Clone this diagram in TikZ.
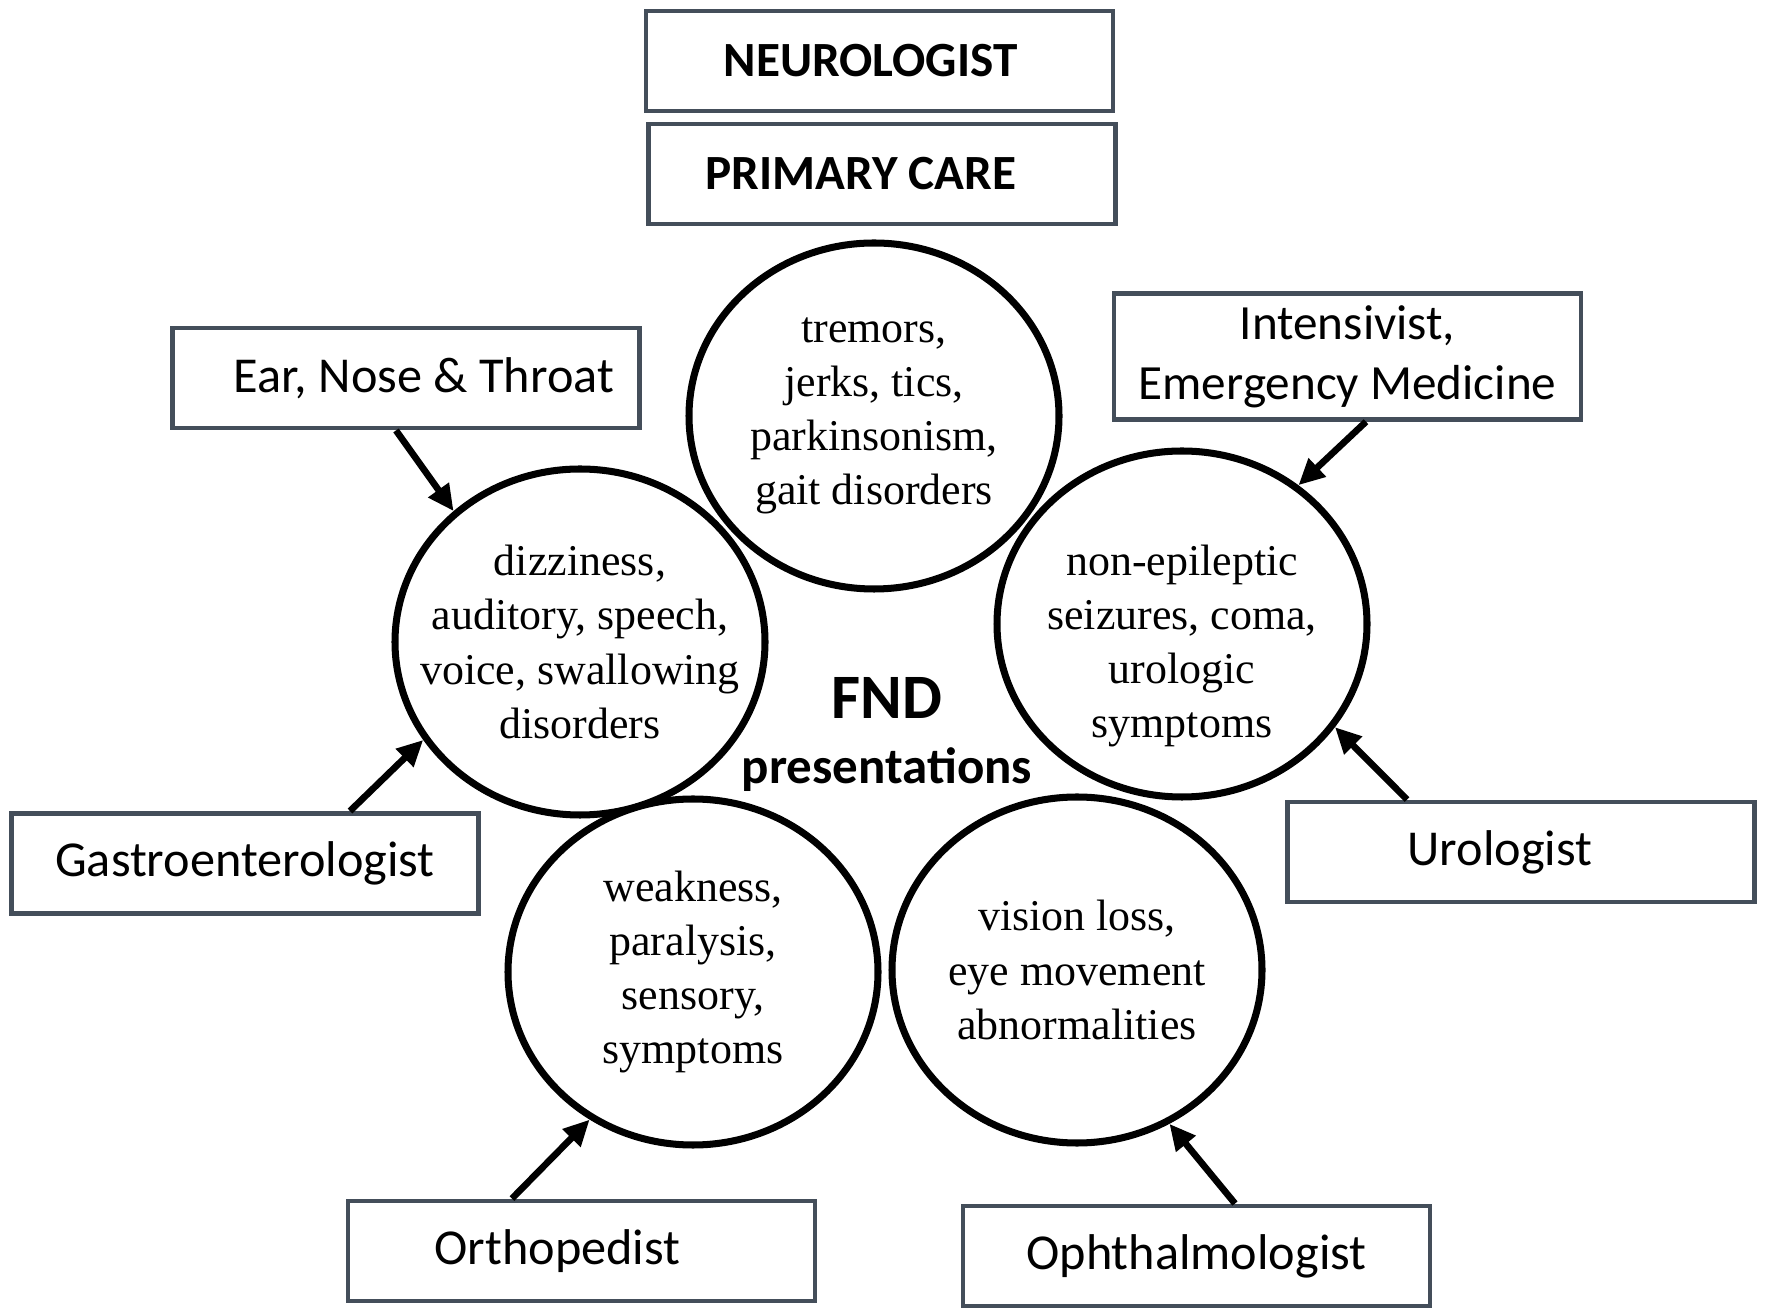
\documentclass[tikz,border=0pt]{standalone}
\usepackage{fontspec}
\setmainfont{Liberation Serif}
\newfontfamily\boxfont{Carlito}
\usetikzlibrary{shapes.geometric,arrows.meta}

\definecolor{boxgray}{RGB}{68,78,90}

\tikzset{
  specialist/.style={rectangle,
      draw = boxgray,
      line width = 1.4pt,
      fill = white,
      minimum width = 4.67cm,
      minimum height = 1cm,
      align = center,
      font = \boxfont\fontsize{14.3}{17}\selectfont},
  presentation/.style={ellipse,
      draw = black,
      line width = 2pt,
      minimum width = 3.7cm,
      minimum height = 3.46cm,
      inner sep = -0.6cm,
      align = center,
      font = \fontsize{12.5}{15.4}\selectfont},
  referral/.style={-{Triangle[length=0.26cm, width=0.24cm]},
      line width = 1.9pt}
}

\begin{document}
\begin{tikzpicture}
\useasboundingbox (0,0) rectangle (17.72,13.13);

% top boxes
\node[specialist, font=\boxfont\bfseries\fontsize{14}{17}\selectfont] (neuro) at (8.795,12.52) {\hspace*{-0.18cm}NEUROLOGIST};
\node[specialist, font=\boxfont\bfseries\fontsize{14}{17}\selectfont] (primary) at (8.82,11.39) {\hspace*{-0.42cm}PRIMARY CARE};

% presentations
\node[presentation] (move) at (8.74,8.97) {tremors,\\ jerks, tics,\\ parkinsonism,\\ gait disorders};
\node[presentation] (ent) at (5.80,6.71) {dizziness,\\ auditory, speech,\\ voice, swallowing\\ disorders};
\node[presentation] (seiz) at (11.82,6.89) {\rule{0pt}{0.74cm}non-epileptic\\ seizures, coma,\\ urologic\\ symptoms};
\node[presentation] (weak) at (6.93,3.41) {weakness,\\ paralysis,\\ sensory,\\ symptoms};
\node[presentation] (vision) at (10.77,3.43) {vision loss,\\ eye movement\\ abnormalities};

% centre label
\node[font=\boxfont\bfseries\fontsize{18}{20}\selectfont] (fnd) at (8.87,6.15) {FND};
\node[font=\boxfont\bfseries\fontsize{14.5}{17}\selectfont] (pres) at (8.87,5.43) {presentations};

% specialists
\node[specialist] (entdoc) at (4.06,9.35) {\hspace*{0.36cm}Ear, Nose \& Throat};
\node[specialist, minimum height = 1.17cm, font=\boxfont\fontsize{14}{17}\selectfont] (icu) at (13.475,9.565) {Intensivist,\\ Emergency Medicine};
\node[specialist] (gastro) at (2.45,4.495) {Gastroenterologist};
\node[specialist] (uro) at (15.21,4.61) {\hspace*{-0.42cm}Urologist};
\node[specialist] (ortho) at (5.815,0.62) {\hspace*{-0.48cm}Orthopedist};
\node[specialist] (ophth) at (11.965,0.57) {Ophthalmologist};

% referrals
\draw[referral] ([xshift=-0.1cm]entdoc.south) -- (ent.134);
\draw[referral] ([xshift=1.05cm]gastro.north) -- (ent.212);
\draw[referral] ([xshift=0.185cm]icu.south) -- (seiz.50);
\draw[referral] ([xshift=-1.14cm]uro.north) -- (seiz.-34);
\draw[referral] ([xshift=-0.695cm]ortho.north) -- (weak.235);
\draw[referral] ([xshift=0.385cm]ophth.north) -- (vision.-59);

\end{tikzpicture}
\end{document}
